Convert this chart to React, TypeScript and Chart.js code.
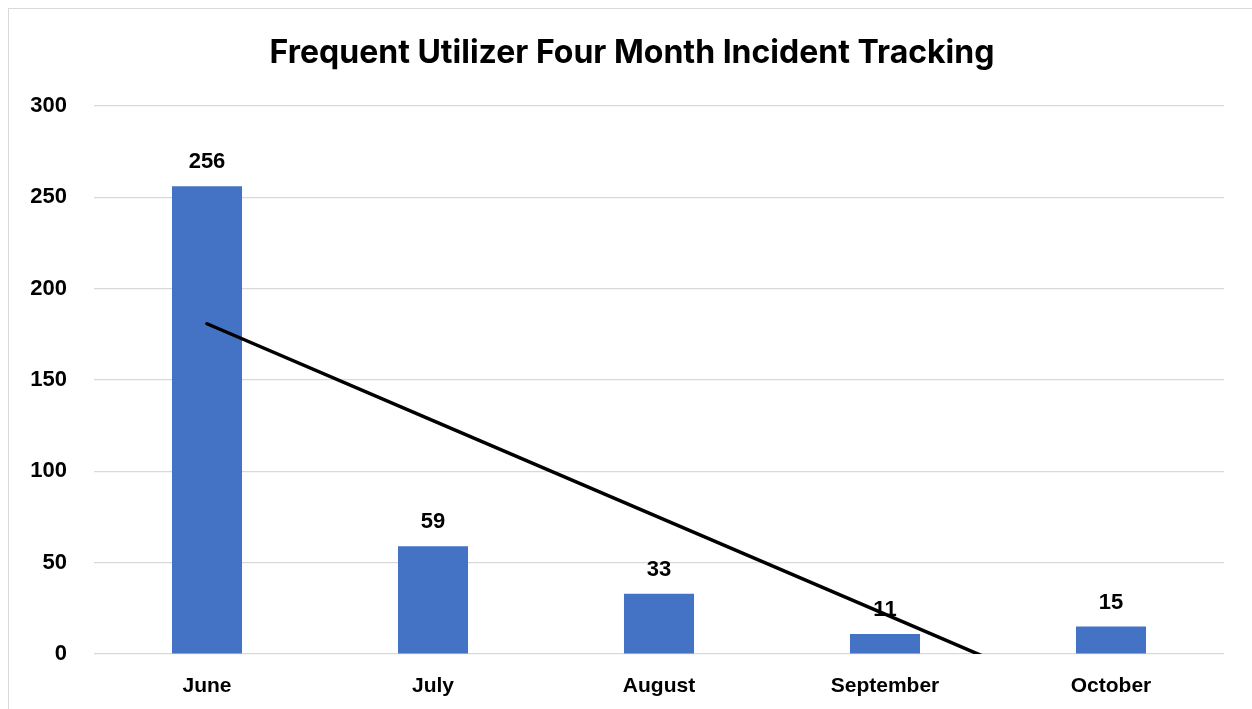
import React, { useEffect, useRef } from "react";
import { Chart, registerables } from "chart.js";

Chart.register(...registerables);

const TITLE = "Frequent Utilizer Four Month Incident Tracking";
const months = ["June", "July", "August", "September", "October"];
const incidents = [256, 59, 33, 11, 15];
const yTickMin = 0;
const yTickMax = 300;
const yTickStep = 50;

// Linear (least squares) trendline fitted to the incident values
function linearTrend(values: number[]): number[] {
  const n = values.length;
  const xs = values.map((_, i) => i + 1);
  const mx = xs.reduce((a, b) => a + b, 0) / n;
  const my = values.reduce((a, b) => a + b, 0) / n;
  let num = 0;
  let den = 0;
  xs.forEach((x, i) => {
    num += (x - mx) * (values[i] - my);
    den += (x - mx) * (x - mx);
  });
  const slope = num / den;
  const intercept = my - slope * mx;
  return xs.map((x) => intercept + slope * x);
}

const trend = linearTrend(incidents);

const LABEL_FONT = "bold 22px 'Liberation Sans', Arial, sans-serif";

const barLabels = {
  id: "barLabels",
  afterDatasetDraw(chart: any, args: any) {
    if (args.index !== 0) return;
    const ctx = chart.ctx;
    ctx.save();
    ctx.font = LABEL_FONT;
    ctx.fillStyle = "#000000";
    ctx.textAlign = "center";
    ctx.textBaseline = "alphabetic";
    args.meta.data.forEach((el: any, i: number) => {
      ctx.fillText(String(incidents[i]), el.x, el.y - 18);
    });
    ctx.restore();
  },
};

const titlePlugin = {
  id: "customTitle",
  afterDraw(chart: any) {
    const ctx = chart.ctx;
    ctx.save();
    ctx.font = "bold 32px Inter, 'Liberation Sans', sans-serif";
    ctx.fillStyle = "#000000";
    ctx.textAlign = "center";
    ctx.textBaseline = "alphabetic";
    ctx.fillText(TITLE, 623, 54);
    ctx.restore();
  },
};

export default function App() {
  const ref = useRef<HTMLCanvasElement | null>(null);

  useEffect(() => {
    if (!ref.current) return;
    const chart = new Chart(ref.current, {
      type: "bar",
      data: {
        labels: months,
        datasets: [
          {
            type: "bar",
            label: "Incidents",
            data: incidents,
            backgroundColor: "#4472C4",
            borderWidth: 0,
            barPercentage: 0.31,
            categoryPercentage: 1,
            order: 1,
          },
          {
            type: "line",
            label: "Linear trend",
            data: trend,
            borderColor: "#000000",
            borderWidth: 3.5,
            borderCapStyle: "round",
            pointRadius: 0,
            fill: false,
            tension: 0,
            clip: 0,
            order: 0,
          } as any,
        ],
      },
      options: {
        responsive: false,
        animation: false,
        devicePixelRatio: 1,
        layout: { padding: { top: 97, right: 28, bottom: 0, left: 0 } },
        plugins: {
          legend: { display: false },
          title: { display: false },
          tooltip: { enabled: false },
        },
        scales: {
          x: {
            offset: true,
            grid: { display: false, drawTicks: false },
            border: { display: false },
            ticks: {
              color: "#000000",
              font: { family: "'Liberation Sans', Arial, sans-serif", size: 21, weight: "bold" },
              padding: 20,
              maxRotation: 0,
            },
            afterFit(scale: any) {
              scale.height = 55;
            },
          },
          y: {
            min: yTickMin,
            max: yTickMax,
            grid: { color: "#d9d9d9", lineWidth: 1.2, drawTicks: false },
            border: { display: false },
            ticks: {
              stepSize: yTickStep,
              color: "#000000",
              font: { family: "'Liberation Sans', Arial, sans-serif", size: 22, weight: "bold" },
              padding: 27,
            },
            afterFit(scale: any) {
              scale.width = 85;
            },
          },
        },
      },
      plugins: [barLabels, titlePlugin],
    });
    return () => chart.destroy();
  }, []);

  return (
    <div
      style={{
        position: "fixed",
        left: 8,
        top: 8,
        width: 1300,
        height: 760,
        borderLeft: "1px solid #d9d9d9",
        borderTop: "1px solid #d9d9d9",
        background: "#ffffff",
      }}
    >
      <canvas ref={ref} width={1243} height={700} style={{ display: "block" }} />
    </div>
  );
}
